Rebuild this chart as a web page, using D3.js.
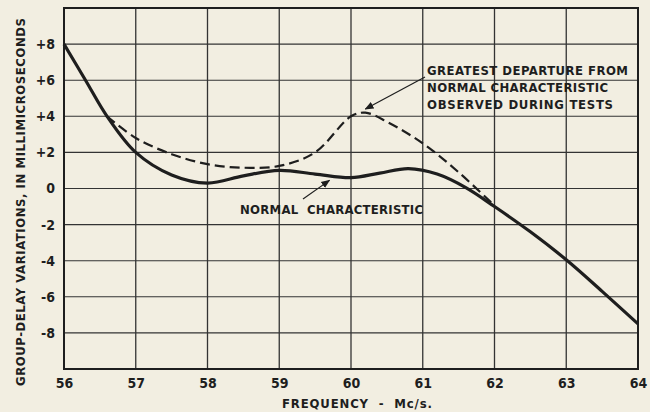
<!DOCTYPE html>
<html>
<head>
<meta charset="utf-8">
<script src="https://cdn.jsdelivr.net/npm/d3@7"></script>
<style>
  body { margin: 0; background: #f2eee1; }
  svg text { font-family: "DejaVu Sans Condensed", "Liberation Sans Narrow", sans-serif; font-weight: bold; fill: #1e1e1e; }
</style>
</head>
<body>
<div class="chart"></div>
<script>
// data
var freqTicks = [56, 57, 58, 59, 60, 61, 62, 63, 64];
var delayTicks = [8, 6, 4, 2, 0, -2, -4, -6, -8];
var normalFreq = [56, 56.3, 56.6, 57, 57.5, 58, 58.5, 59, 59.5, 60, 60.4, 60.8, 61.2, 61.6, 62, 62.5, 63, 63.5, 64];
var normalDelay = [8, 6.0, 4.0, 2.0, 0.75, 0.3, 0.7, 1.0, 0.8, 0.6, 0.85, 1.1, 0.8, 0.05, -1.0, -2.4, -3.95, -5.7, -7.5];
var testFreq = [56.6, 57, 57.5, 58, 58.5, 59, 59.5, 60, 60.2, 60.5, 61, 61.5, 62];
var testDelay = [4.0, 2.8, 1.9, 1.35, 1.15, 1.25, 2.0, 4.0, 4.2, 3.7, 2.5, 0.9, -0.95];

var ink = '#1e1e1e';
var margin = { top: 8, right: 12, bottom: 43, left: 64 },
    width  = 650 - margin.left - margin.right,
    height = 412 - margin.top - margin.bottom;

var x = d3.scaleLinear().domain([56, 64]).range([0, width]);
var y = d3.scaleLinear().domain([-10, 10]).range([height, 0]);

var svg = d3.select('.chart')
    .append('svg')
    .attr('width', 650)
    .attr('height', 412);

var g = svg.append('g')
    .attr('transform', 'translate(' + margin.left + ',' + margin.top + ')');

svg.append('defs').append('marker')
    .attr('id', 'arrow')
    .attr('viewBox', '0 0 10 10')
    .attr('refX', 9).attr('refY', 5)
    .attr('markerWidth', 9).attr('markerHeight', 9)
    .attr('markerUnits', 'userSpaceOnUse')
    .attr('orient', 'auto')
    .append('path')
    .attr('d', 'M0,1 L10,5 L0,9 Z')
    .attr('fill', ink);

// grid
g.selectAll('.vline')
    .data(freqTicks)
    .enter().append('line')
    .attr('x1', function(d){ return x(d); })
    .attr('x2', function(d){ return x(d); })
    .attr('y1', 0).attr('y2', height)
    .attr('stroke', '#333').attr('stroke-width', 1.3);

g.selectAll('.hline')
    .data(delayTicks)
    .enter().append('line')
    .attr('x1', 0).attr('x2', width)
    .attr('y1', function(d){ return y(d); })
    .attr('y2', function(d){ return y(d); })
    .attr('stroke', '#333').attr('stroke-width', 1.1);

g.append('rect')
    .attr('width', width).attr('height', height)
    .attr('fill', 'none').attr('stroke', ink).attr('stroke-width', 2);

// axes (labels only)
var xAxis = d3.axisBottom(x).tickValues(freqTicks).tickSize(0).tickPadding(9);
var yAxis = d3.axisLeft(y).tickValues(delayTicks).tickSize(0).tickPadding(9)
    .tickFormat(function(d){ return d > 0 ? '+' + d : d < 0 ? '-' + Math.abs(d) : '0'; });

g.append('g').attr('transform', 'translate(0,' + height + ')').call(xAxis)
    .call(function(a){ a.select('.domain').remove(); })
    .selectAll('text').attr('font-size', 14).style('font-family', null);

g.append('g').call(yAxis)
    .call(function(a){ a.select('.domain').remove(); })
    .selectAll('text').attr('font-size', 14).style('font-family', null);

svg.selectAll('.tick text').attr('fill', ink);

svg.append('text')
    .attr('x', 282).attr('y', 408)
    .attr('font-size', 13)
    .attr('textLength', 150)
    .attr('xml:space', 'preserve')
    .text('FREQUENCY  -  Mc/s.');

svg.append('text')
    .attr('transform', 'translate(25,202) rotate(-90)')
    .attr('text-anchor', 'middle')
    .attr('font-size', 13)
    .attr('textLength', 368)
    .text('GROUP-DELAY VARIATIONS, IN MILLIMICROSECONDS');

// curves
var line = d3.line()
    .x(function(d){ return x(d[0]); })
    .y(function(d){ return y(d[1]); })
    .curve(d3.curveCatmullRom.alpha(0.5));

g.append('path')
    .datum(d3.zip(testFreq, testDelay))
    .attr('d', line)
    .attr('fill', 'none').attr('stroke', ink)
    .attr('stroke-width', 2.2).attr('stroke-dasharray', '10,5');

g.append('path')
    .datum(d3.zip(normalFreq, normalDelay))
    .attr('d', line)
    .attr('fill', 'none').attr('stroke', ink)
    .attr('stroke-width', 3.2);

// annotations
var note = svg.append('g').attr('font-size', 13);
[['GREATEST DEPARTURE FROM', 201], ['NORMAL CHARACTERISTIC', 181], ['OBSERVED DURING TESTS', 186]].forEach(function(t, i){
    note.append('text').attr('x', 427).attr('y', 75 + i * 17)
        .attr('textLength', t[1]).text(t[0]);
});
svg.append('line')
    .attr('x1', 425).attr('y1', 77)
    .attr('x2', x(60.2) + margin.left).attr('y2', y(4.4) + margin.top)
    .attr('stroke', ink).attr('stroke-width', 1.2)
    .attr('marker-end', 'url(#arrow)');

svg.append('text')
    .attr('x', 240).attr('y', 214)
    .attr('font-size', 13)
    .attr('textLength', 183)
    .attr('xml:space', 'preserve')
    .text('NORMAL  CHARACTERISTIC');
svg.append('line')
    .attr('x1', 303).attr('y1', 199)
    .attr('x2', x(59.7) + margin.left).attr('y2', y(0.45) + margin.top)
    .attr('stroke', ink).attr('stroke-width', 1.2)
    .attr('marker-end', 'url(#arrow)');
</script>
</body>
</html>
